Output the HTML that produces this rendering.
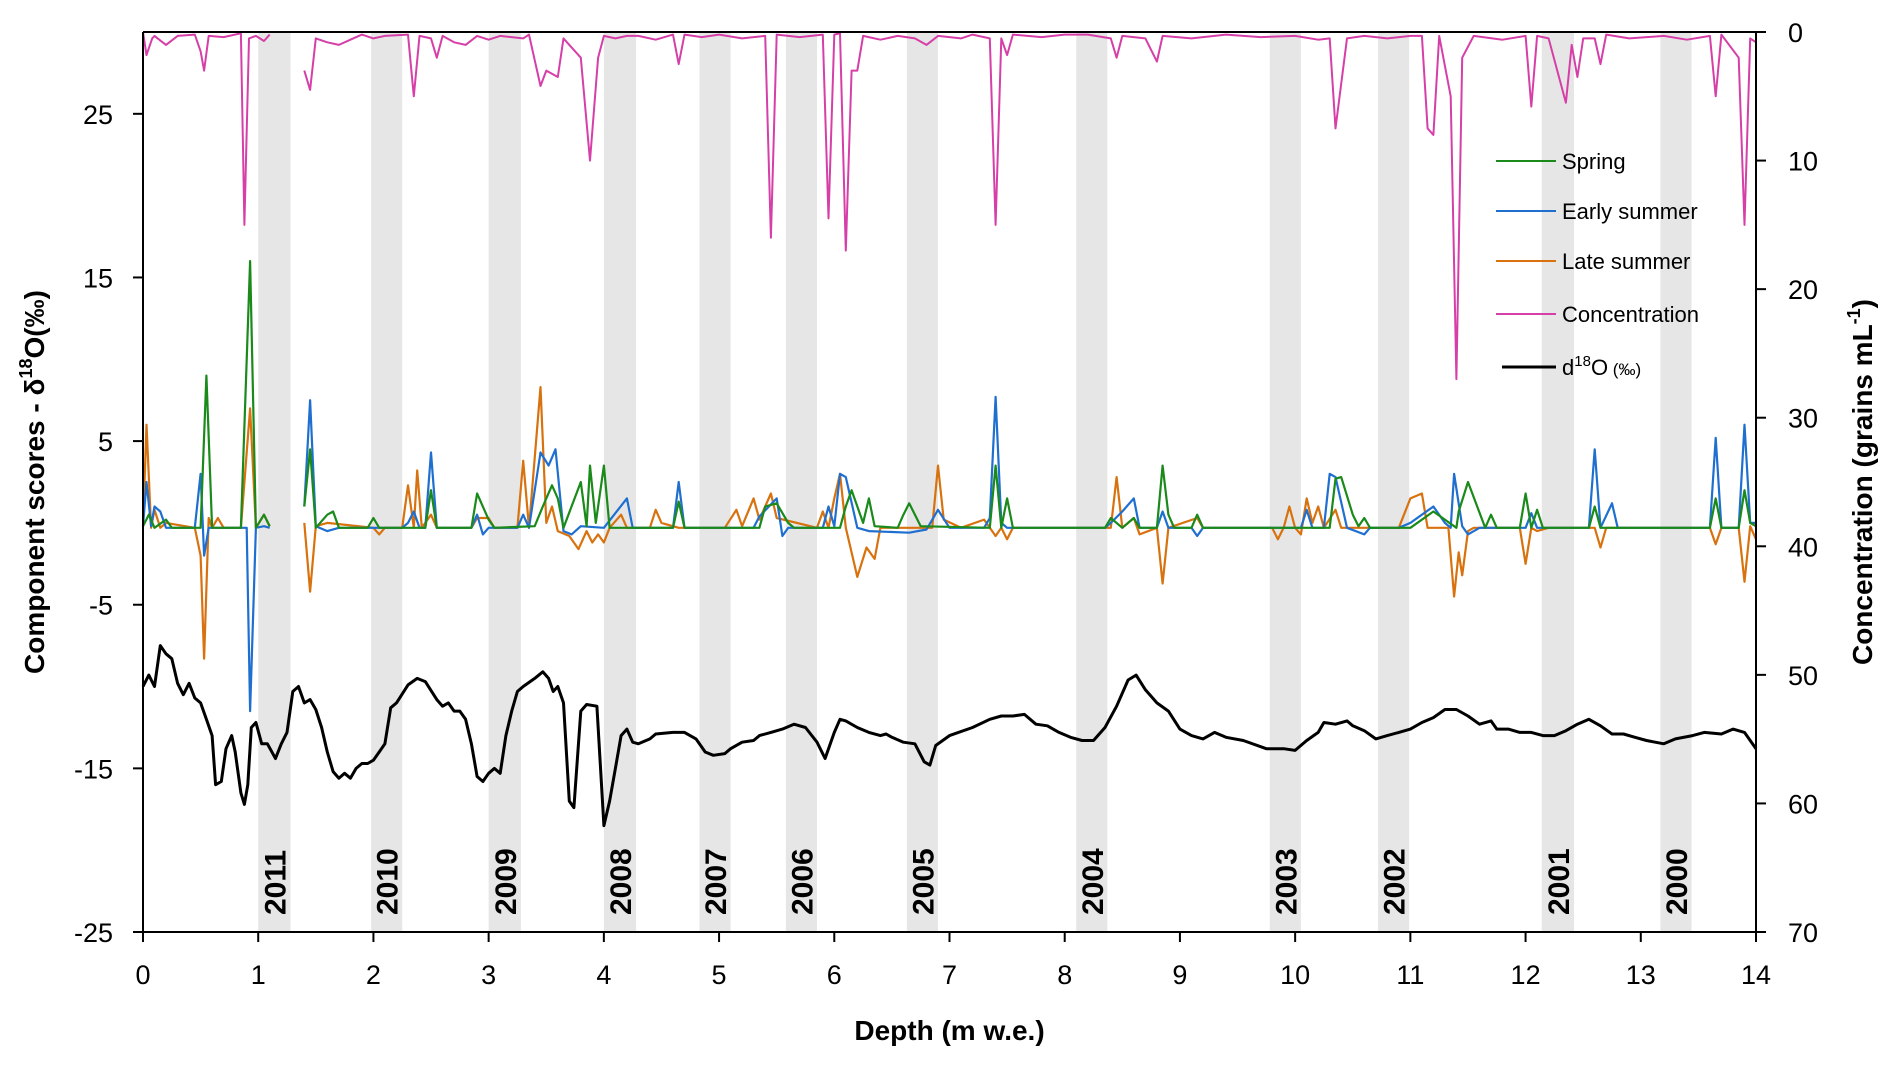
<!DOCTYPE html>
<html><head><meta charset="utf-8">
<style>
html,body{margin:0;padding:0;background:#fff;}
svg text{font-family:"Liberation Sans",sans-serif;}
</style></head>
<body>
<svg id="chart" width="1892" height="1067" viewBox="0 0 1892 1067" xmlns="http://www.w3.org/2000/svg">
<g id="bands"></g>
<g id="series"></g>
<g id="axes"></g>
<g id="legend"></g>
</svg>
<script>
const xTicks=[0,1,2,3,4,5,6,7,8,9,10,11,12,13,14];
const yLeftTicks=[-25,-15,-5,5,15,25];
const yRightTicks=[0,10,20,30,40,50,60,70];
const years=["2011","2010","2009","2008","2007","2006","2005","2004","2003","2002","2001","2000"];
const bandStart=[1.0,1.98,3.0,4.0,4.83,5.58,6.63,8.1,9.78,10.72,12.14,13.17];
const bandEnd=[1.28,2.25,3.28,4.28,5.1,5.85,6.9,8.37,10.05,10.99,12.42,13.44];

const d18Depth=[0,0.05,0.1,0.15,0.2,0.25,0.3,0.35,0.4,0.45,0.5,0.55,0.6,0.63,0.68,0.72,0.77,0.8,0.85,0.88,0.91,0.94,0.98,1.03,1.08,1.15,1.2,1.25,1.3,1.35,1.4,1.45,1.5,1.55,1.6,1.65,1.7,1.75,1.8,1.85,1.9,1.95,2.0,2.05,2.1,2.15,2.2,2.3,2.38,2.45,2.55,2.6,2.65,2.7,2.75,2.8,2.85,2.9,2.95,3.0,3.05,3.1,3.15,3.2,3.25,3.3,3.4,3.47,3.52,3.56,3.6,3.65,3.7,3.74,3.8,3.85,3.94,4.0,4.05,4.1,4.15,4.2,4.25,4.3,4.4,4.45,4.6,4.7,4.8,4.88,4.95,5.05,5.1,5.2,5.3,5.35,5.45,5.55,5.65,5.75,5.85,5.92,6.0,6.05,6.1,6.2,6.3,6.4,6.45,6.5,6.6,6.7,6.78,6.83,6.88,7.0,7.2,7.35,7.45,7.55,7.65,7.75,7.85,7.95,8.05,8.15,8.25,8.35,8.45,8.55,8.62,8.7,8.8,8.9,9.0,9.1,9.2,9.3,9.4,9.55,9.75,9.9,10.0,10.1,10.2,10.25,10.35,10.45,10.5,10.6,10.7,10.8,10.9,11.0,11.1,11.2,11.3,11.4,11.5,11.6,11.7,11.75,11.85,11.95,12.05,12.15,12.25,12.35,12.45,12.55,12.65,12.75,12.85,12.95,13.05,13.2,13.3,13.45,13.55,13.7,13.8,13.9,14.0];
const d18Value=[-10,-9.3,-10,-7.5,-8,-8.3,-9.8,-10.5,-9.8,-10.7,-11,-12,-13,-16,-15.8,-13.8,-13,-14,-16.5,-17.2,-16,-12.5,-12.2,-13.5,-13.5,-14.4,-13.5,-12.8,-10.3,-10,-11,-10.8,-11.4,-12.5,-14,-15.2,-15.6,-15.3,-15.6,-15,-14.7,-14.7,-14.5,-14,-13.5,-11.3,-11,-9.9,-9.5,-9.7,-10.8,-11.2,-11,-11.5,-11.5,-12,-13.5,-15.5,-15.8,-15.3,-15,-15.3,-13,-11.5,-10.3,-10,-9.5,-9.1,-9.5,-10.3,-10,-11,-17,-17.4,-11.5,-11.1,-11.2,-18.5,-17,-15,-13,-12.6,-13.4,-13.5,-13.2,-12.9,-12.8,-12.8,-13.2,-14,-14.2,-14.1,-13.8,-13.4,-13.3,-13,-12.8,-12.6,-12.3,-12.5,-13.4,-14.4,-12.8,-12,-12.1,-12.5,-12.8,-13,-12.9,-13.1,-13.4,-13.5,-14.6,-14.8,-13.6,-13,-12.5,-12,-11.8,-11.8,-11.7,-12.3,-12.4,-12.8,-13.1,-13.3,-13.3,-12.5,-11.2,-9.6,-9.3,-10.2,-11,-11.5,-12.6,-13,-13.2,-12.8,-13.1,-13.3,-13.8,-13.8,-13.9,-13.3,-12.8,-12.2,-12.3,-12.1,-12.4,-12.7,-13.2,-13,-12.8,-12.6,-12.2,-11.9,-11.4,-11.4,-11.8,-12.3,-12.1,-12.6,-12.6,-12.8,-12.8,-13,-13,-12.7,-12.3,-12.0,-12.4,-12.9,-12.9,-13.1,-13.3,-13.5,-13.2,-13.0,-12.8,-12.9,-12.6,-12.8,-13.8];

const concDepth=[0,0.03,0.08,0.1,0.2,0.3,0.45,0.5,0.53,0.57,0.7,0.85,0.88,0.92,0.98,1.05,1.1,1.25,1.4,1.45,1.5,1.6,1.7,1.8,1.9,2.0,2.1,2.3,2.35,2.4,2.5,2.55,2.6,2.7,2.8,2.9,3.0,3.1,3.3,3.35,3.45,3.5,3.6,3.65,3.8,3.88,3.95,4.0,4.1,4.2,4.3,4.45,4.6,4.65,4.7,4.85,5.0,5.2,5.4,5.45,5.5,5.7,5.9,5.95,6.0,6.05,6.1,6.15,6.2,6.25,6.4,6.55,6.7,6.8,6.9,7.1,7.2,7.35,7.4,7.45,7.5,7.55,7.8,8.0,8.2,8.4,8.45,8.5,8.7,8.8,8.85,9.1,9.4,9.7,10.0,10.2,10.3,10.35,10.45,10.6,10.8,11.0,11.1,11.15,11.2,11.25,11.35,11.4,11.45,11.55,11.8,12.0,12.05,12.1,12.2,12.35,12.4,12.45,12.5,12.6,12.65,12.7,12.9,13.2,13.4,13.6,13.65,13.7,13.85,13.9,13.95,14.0];
const concValue=[0,1.8,0.5,0.3,1,0.3,0.2,1.5,3,0.3,0.4,0.1,15,0.5,0.3,0.7,0.2,null,3,4.5,0.5,0.8,1,0.6,0.2,0.5,0.3,0.2,5,0.3,0.5,2,0.3,0.8,1,0.3,0.6,0.3,0.5,0.2,4.2,3,3.5,0.5,2,10,2,0.3,0.5,0.3,0.3,0.6,0.2,2.5,0.2,0.4,0.2,0.5,0.3,16,0.2,0.4,0.2,14.5,0.2,0.1,17,3,3,0.3,0.6,0.3,0.5,1,0.3,0.5,0.2,0.5,15,0.5,1.8,0.2,0.4,0.2,0.2,0.5,2,0.3,0.5,2.3,0.3,0.5,0.2,0.4,0.3,0.6,0.5,7.5,0.5,0.3,0.5,0.3,0.3,7.5,8,0.3,5,27,2,0.3,0.6,0.3,5.8,0.3,0.5,5.5,1,3.5,0.5,0.5,2.5,0.2,0.5,0.3,0.6,0.3,5,0.2,2,15,0.5,0.8];

const springDepth=[0,0.05,0.1,0.2,0.25,0.5,0.55,0.6,0.85,0.93,0.98,1.05,1.1,1.25,1.4,1.45,1.5,1.6,1.65,1.7,1.95,2.0,2.05,2.45,2.5,2.55,2.85,2.9,3.0,3.05,3.4,3.47,3.55,3.6,3.65,3.8,3.85,3.88,3.93,4.0,4.05,4.6,4.65,4.7,5.35,5.4,5.5,5.6,5.65,6.05,6.1,6.15,6.25,6.3,6.35,6.55,6.6,6.65,6.75,7.35,7.4,7.45,7.5,7.55,8.35,8.4,8.5,8.6,8.65,8.8,8.85,8.9,8.95,9.1,9.15,9.2,10.3,10.35,10.4,10.5,10.55,10.6,10.65,11.0,11.2,11.4,11.42,11.5,11.65,11.7,11.75,11.95,12.0,12.05,12.1,12.15,12.55,12.6,12.65,13.6,13.65,13.7,13.85,13.9,13.95,14.0];
const springValue=[-0.2,0.5,-0.3,0.2,-0.3,-0.3,9,-0.3,-0.3,16,-0.3,0.5,-0.2,null,1,4.5,-0.3,0.5,0.7,-0.3,-0.3,0.3,-0.3,-0.3,2,-0.3,-0.3,1.8,0.2,-0.3,-0.2,1,2.3,1.5,-0.3,2.5,-0.2,3.5,0,3.5,-0.3,-0.3,1.3,-0.3,-0.3,1,1.2,0,-0.3,-0.3,1,2,0,1.5,-0.2,-0.3,0.5,1.2,-0.2,-0.3,3.5,-0.3,1.5,-0.3,-0.3,0.3,-0.3,0.3,-0.3,-0.3,3.5,0.5,-0.3,-0.3,0.5,-0.3,-0.3,2.7,2.8,0.5,-0.2,0.3,-0.3,-0.3,0.7,-0.3,0.7,2.5,-0.3,0.5,-0.3,-0.3,1.8,-0.3,0.8,-0.3,-0.3,1,-0.3,-0.3,1.5,-0.3,-0.3,2,0,-0.2];

const earlyDepth=[0,0.03,0.07,0.1,0.15,0.2,0.45,0.5,0.53,0.57,0.9,0.93,0.98,1.05,1.1,1.25,1.4,1.45,1.5,1.6,1.7,2.25,2.3,2.35,2.4,2.45,2.5,2.55,2.85,2.9,2.95,3.0,3.25,3.3,3.35,3.45,3.52,3.58,3.65,3.72,3.8,4.0,4.2,4.25,4.6,4.65,4.7,5.3,5.35,5.5,5.55,5.6,5.9,5.95,6.0,6.05,6.1,6.2,6.3,6.65,6.8,6.9,7.0,7.3,7.35,7.4,7.45,7.5,8.35,8.4,8.5,8.6,8.65,8.8,8.85,8.9,9.1,9.15,9.2,10.05,10.1,10.15,10.25,10.3,10.35,10.45,10.6,10.65,10.9,11.0,11.2,11.3,11.35,11.38,11.45,11.5,11.6,12.0,12.05,12.1,12.55,12.6,12.65,12.75,12.8,13.6,13.65,13.7,13.85,13.9,13.95,14.0];
const earlyValue=[-0.2,2.5,-0.2,1,0.7,-0.3,-0.3,3,-2,-0.3,-0.3,-11.5,-0.3,-0.2,-0.3,null,1,7.5,-0.2,-0.5,-0.3,-0.3,0,0.7,-0.3,-0.3,4.3,-0.3,-0.3,0.5,-0.7,-0.3,-0.3,0.5,-0.3,4.3,3.5,4.5,-0.5,-0.7,-0.2,-0.3,1.5,-0.3,-0.3,2.5,-0.3,-0.3,0.4,1.5,-0.8,-0.3,-0.3,1,-0.2,3,2.8,-0.3,-0.5,-0.6,-0.4,0.8,-0.3,-0.3,0.3,7.7,0,-0.3,-0.3,0,0.7,1.5,-0.3,-0.3,0.7,-0.3,-0.3,-0.8,-0.3,-0.3,0.8,-0.3,-0.3,3,2.8,-0.3,-0.7,-0.3,-0.3,0,1,0,-0.3,3,-0.2,-0.7,-0.3,-0.3,0.6,-0.3,-0.3,4.5,-0.3,1.2,-0.3,-0.3,5.2,-0.3,-0.3,6,0,0];

const lateDepth=[0,0.03,0.07,0.1,0.15,0.2,0.45,0.5,0.53,0.57,0.6,0.65,0.7,0.85,0.93,0.98,1.05,1.1,1.25,1.4,1.45,1.5,1.6,2.0,2.05,2.1,2.25,2.3,2.35,2.38,2.42,2.5,2.55,2.85,2.9,3.0,3.05,3.25,3.3,3.35,3.45,3.5,3.55,3.6,3.7,3.78,3.85,3.9,3.95,4.0,4.05,4.15,4.2,4.4,4.45,4.5,4.65,5.05,5.15,5.2,5.3,5.35,5.45,5.5,5.85,5.9,5.95,6.0,6.05,6.1,6.2,6.28,6.35,6.4,6.7,6.85,6.9,6.95,7.1,7.3,7.4,7.45,7.5,7.55,8.4,8.45,8.5,8.6,8.65,8.8,8.85,8.9,9.15,9.2,9.8,9.85,9.9,9.95,10.0,10.05,10.1,10.15,10.2,10.25,10.35,10.4,10.9,11.0,11.1,11.15,11.33,11.38,11.42,11.45,11.5,11.55,11.95,12.0,12.05,12.1,12.2,12.6,12.65,12.7,13.6,13.65,13.7,13.85,13.9,13.95,14.0];
const lateValue=[-0.2,6,-0.3,0.8,-0.3,0,-0.3,-2,-8.3,0.3,-0.3,0.3,-0.3,-0.3,7,-0.3,0.5,-0.2,null,0,-4.2,-0.2,0,-0.3,-0.7,-0.3,-0.3,2.3,-0.3,3.2,-0.3,0.5,-0.3,-0.3,0.3,0.3,-0.3,-0.3,3.8,-0.3,8.3,0,1,-0.5,-0.8,-1.6,-0.5,-1.2,-0.7,-1.2,-0.3,0.5,-0.3,-0.3,0.8,0,-0.3,-0.3,0.8,-0.2,1.5,0.2,1.8,0.3,-0.3,0.7,-0.3,1.5,3,-0.3,-3.3,-1.5,-2.2,-0.3,-0.3,-0.3,3.5,0.2,-0.3,0.2,-0.8,-0.3,-1,-0.3,-0.3,2.8,-0.3,0.3,-0.7,-0.3,-3.7,-0.3,0.3,-0.3,-0.3,-1.0,-0.3,1,-0.3,-0.7,1.5,0,1,-0.3,0.8,-0.3,-0.3,1.5,1.8,-0.3,-0.3,-4.5,-1.8,-3.2,-0.5,-0.3,-0.3,-2.5,-0.3,-0.5,-0.3,-0.3,-1.5,-0.3,-0.3,-1.3,-0.3,-0.3,-3.6,-0.2,-1];

const L=143,R=1756,T=32,B=932;
const xScale=d=>L+(d-0)/(14-0)*(R-L);
const yLeft=v=>B-(v-(-25))/(30-(-25))*(B-T);
const yRight=v=>T+(v-0)/(70-0)*(B-T);
const NS="http://www.w3.org/2000/svg";
function mk(tag,attrs,parent){const e=document.createElementNS(NS,tag);for(const k in attrs)e.setAttribute(k,attrs[k]);parent.appendChild(e);return e;}

const bandsG=document.getElementById('bands');
years.forEach((yr,i)=>{
  const x0=xScale(bandStart[i]),x1=xScale(bandEnd[i]);
  const r=mk('rect',{x:x0,y:T,width:x1-x0,height:B-T,fill:'#e6e6e6'},bandsG);
  
  
  const cx=(x0+x1)/2;
  const t=mk('text',{x:0,y:0,transform:`translate(${cx+11},915) rotate(-90)`,'font-size':'30','font-weight':'bold',fill:'#000'},bandsG);
  t.textContent=yr;
  
  
});

const seriesG=document.getElementById('series');
function drawLine(depths,vals,yfn,color,w,name){
  let d='',pen=false;
  depths.forEach((dp,i)=>{const v=vals[i];if(v===null){pen=false;return;}
    d+=(pen?'L':'M')+xScale(dp).toFixed(1)+','+yfn(v).toFixed(1);pen=true;});
  const p=mk('path',{d:d,fill:'none',stroke:color,'stroke-width':w,'stroke-linejoin':'round'},seriesG);
  
  
}
drawLine(concDepth,concValue,yRight,'#d63fa8',2,'concentration-line');
drawLine(lateDepth,lateValue,yLeft,'#d8720f',2.2,'late-summer-line');
drawLine(earlyDepth,earlyValue,yLeft,'#1f6fd0',2.2,'early-summer-line');
drawLine(springDepth,springValue,yLeft,'#1a8a1a',2.2,'spring-line');
drawLine(d18Depth,d18Value,yLeft,'#000',3,'d18o-line');

const ax=document.getElementById('axes');
mk('line',{x1:L,y1:T,x2:L,y2:B,stroke:'#000','stroke-width':2},ax);
mk('line',{x1:R,y1:T,x2:R,y2:B,stroke:'#000','stroke-width':2},ax);
mk('line',{x1:L-10,y1:B,x2:R,y2:B,stroke:'#000','stroke-width':2},ax);
mk('line',{x1:L,y1:T,x2:R+10,y2:T,stroke:'#000','stroke-width':2},ax);
xTicks.forEach(v=>{const x=xScale(v);mk('line',{x1:x,y1:B,x2:x,y2:B+10,stroke:'#000','stroke-width':2},ax);
  const t=mk('text',{x:x,y:B+52,'font-size':'27','text-anchor':'middle'},ax);t.textContent=v;
  
  });
yLeftTicks.forEach(v=>{const y=yLeft(v);mk('line',{x1:L-10,y1:y,x2:L,y2:y,stroke:'#000','stroke-width':2},ax);
  const t=mk('text',{x:L-30,y:y+10,'font-size':'27','text-anchor':'end'},ax);t.textContent=v;
  
  });
yRightTicks.forEach(v=>{const y=yRight(v);mk('line',{x1:R,y1:y,x2:R+10,y2:y,stroke:'#000','stroke-width':2},ax);
  const t=mk('text',{x:R+32,y:y+10,'font-size':'27','text-anchor':'start'},ax);t.textContent=v;
  
  });
const xt=mk('text',{x:(L+R)/2,y:1040,'font-size':'28','font-weight':'bold','text-anchor':'middle'},ax);
xt.textContent='Depth (m w.e.)';


const yt=mk('text',{x:0,y:0,transform:`translate(44,482) rotate(-90)`,'font-size':'28','font-weight':'bold','text-anchor':'middle'},ax);
yt.innerHTML='Component scores - δ<tspan font-size="18" dy="-12">18</tspan><tspan dy="12">O(‰)</tspan>';


const yt2=mk('text',{x:0,y:0,transform:`translate(1872,482) rotate(-90)`,'font-size':'28','font-weight':'bold','text-anchor':'middle'},ax);
yt2.innerHTML='Concentration (grains mL<tspan font-size="18" dy="-12">-1</tspan><tspan dy="12">)</tspan>';



const legendNames=['Spring','Early summer','Late summer','Concentration','d18O'];
const legendColors=['#1a8a1a','#1f6fd0','#d8720f','#d63fa8','#000'];
const legendY=[161,211,261,314,367];
const lg=document.getElementById('legend');
legendNames.forEach((n,i)=>{
  const g=mk('g',{},lg);
  
  
  mk('line',{x1:i===4?1502:1496,y1:legendY[i],x2:1556,y2:legendY[i],stroke:legendColors[i],'stroke-width':i===4?3:2},g);
  const t=mk('text',{x:1562,y:legendY[i]+8,'font-size':'22'},g);
  if(i===4){t.innerHTML='d<tspan font-size="15" dy="-9">18</tspan><tspan dy="9">O</tspan><tspan font-size="17"> (‰)</tspan>';}
  else t.textContent=n;
});
</script>
</body></html>
